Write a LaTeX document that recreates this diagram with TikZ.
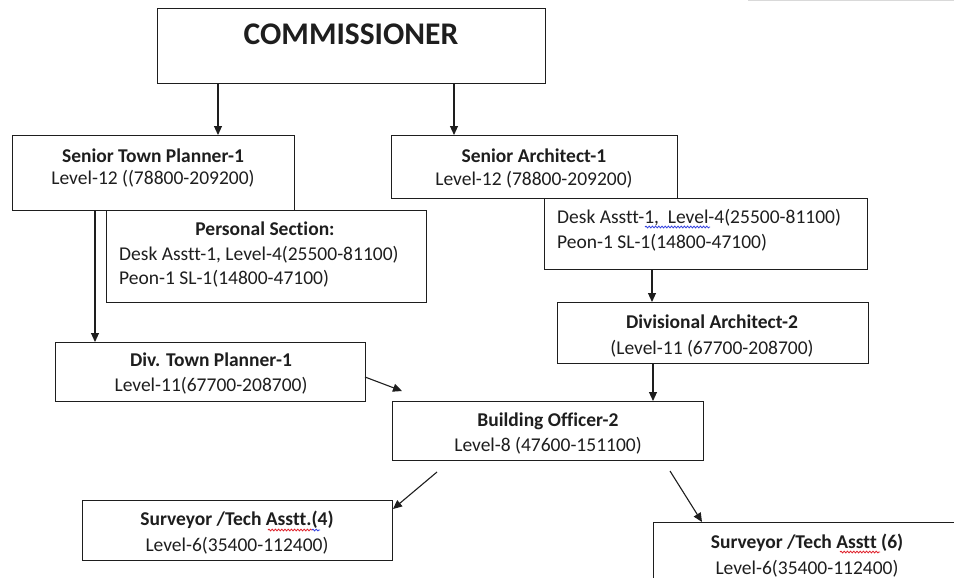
\documentclass[tikz,border=0pt]{standalone}
\usepackage{fontspec}
\setmainfont{Carlito}[Ligatures=CommonOff]
\usetikzlibrary{arrows.meta,calc,decorations.pathmorphing}
\definecolor{ink}{HTML}{1E1E1E}
\definecolor{spellred}{HTML}{E0202A}
\definecolor{spellblue}{HTML}{3040E0}
\begin{document}
\begin{tikzpicture}[x=1pt,y=-1pt,
  box/.style={draw=ink,line width=1.2pt,rectangle,inner sep=0pt,anchor=north west},
  head/.style={font=\fontsize{19.5}{23}\selectfont\bfseries,text=ink,inner sep=0pt,anchor=base},
  body/.style={font=\fontsize{19.5}{23}\selectfont,text=ink,inner sep=0pt,anchor=base},
  lbody/.style={body,anchor=base west},
  arr/.style={draw=ink,line width=1.1pt,-{Triangle[length=9pt,width=8pt]}},
  squiggle/.style={line width=0.8pt,decorate,decoration={snake,amplitude=0.9pt,segment length=3.2pt}}
]
\useasboundingbox (0,0) rectangle (954,578);
\clip (0,0) rectangle (954,578);
\fill[white] (0,0) rectangle (954,578);

% thin rule at the top edge
\draw[black!15,line width=1pt] (748,0.6) -- (954,0.6);

% boxes
\node[box,minimum width=388pt,minimum height=75pt] (com) at (157,8) {};
\node[box,minimum width=282pt,minimum height=75pt] (stp) at (12,135) {};
\node[box,minimum width=286pt,minimum height=63pt] (sa)  at (391,135) {};
\node[box,minimum width=320pt,minimum height=92pt] (ps)  at (106,210) {};
\node[box,minimum width=323pt,minimum height=71pt] (da)  at (544,198) {};
\node[box,minimum width=310pt,minimum height=59pt] (dtp) at (55,342) {};
\node[box,minimum width=311pt,minimum height=61pt] (dar) at (557,302) {};
\node[box,minimum width=311pt,minimum height=59pt] (bo)  at (392,401) {};
\node[box,minimum width=310pt,minimum height=60pt] (sv1) at (82,500) {};
\node[box,minimum width=330pt,minimum height=80pt] (sv2) at (653,522) {};

% texts
\node[font=\fontsize{31.5}{36}\selectfont\bfseries,text=ink,inner sep=0pt,anchor=base] (tcom) at (351,45) {COMMISSIONER};

\node[head] (tstp1) at (153,162) {Senior Town Planner-1};
\node[body] (tstp2) at (153,184) {Level-12 ((78800-209200)};

\node[head] (tsa1) at (534,162) {Senior Architect-1};
\node[body] (tsa2) at (534,185) {Level-12 (78800-209200)};

\node[head]  (tps1) at (265,235) {Personal Section:};
\node[lbody] (tps2) at (119,260) {Desk Asstt-1, Level-4(25500-81100)};
\node[lbody] (tps3) at (119,284) {Peon-1 SL-1(14800-47100)};

\node[lbody] (tda1) at (557,223) {Desk Asstt-1,\ \ Level-4(25500-81100)};
\node[lbody] (tda2) at (557,248) {Peon-1 SL-1(14800-47100)};

\node[head] (tdtp1) at (211,366) {Div. Town Planner-1};
\node[body] (tdtp2) at (211,391) {Level-11(67700-208700)};

\node[head] (tdar1) at (712,328) {Divisional Architect-2};
\node[body] (tdar2) at (712,354) {(Level-11 (67700-208700)};

\node[head] (tbo1) at (548,426) {Building Officer-2};
\node[body] (tbo2) at (548,451) {Level-8 (47600-151100)};

\node[head] (tsv11) at (237,525) {Surveyor /Tech Asstt.(4)};
\node[body] (tsv12) at (237,551) {Level-6(35400-112400)};

\node[head] (tsv21) at (807,548) {Surveyor /Tech Asstt (6)};
\node[body] (tsv22) at (807,574) {Level-6(35400-112400)};

% proofing marks under words
\draw[squiggle,spellblue] (645,227) -- (710,227);
\draw[squiggle,spellred]  (268,530) -- (312,530);
\draw[squiggle,spellblue] (312,530) -- (320,530);
\draw[squiggle,spellred]  (840,552) -- (880,552);

% connector guides
\coordinate (xl) at (218,0);
\coordinate (xr) at (454,0);
\coordinate (xs) at (95,0);
\coordinate (xa) at (652,0);
\coordinate (xb) at (653,0);
\coordinate (dtpout) at (365,377);
\coordinate (boin) at (402,391);
\coordinate (bol) at (437,472);
\coordinate (sv1in) at (393,509);
\coordinate (bor) at (670,471);
\coordinate (sv2in) at (702,522);

% connectors
\draw[arr] (xl |- com.south) -- (xl |- stp.north);
\draw[arr] (xr |- com.south) -- (xr |- sa.north);
\draw[arr] (xs |- stp.south) -- (xs |- dtp.north);
\draw[arr] (xa |- da.south) -- (xa |- dar.north);
\draw[arr] (xb |- dar.south) -- (xb |- bo.north);
\draw[arr] (dtpout) -- (boin);
\draw[arr] (bol) -- (sv1in);
\draw[arr] (bor) -- (sv2in);
\end{tikzpicture}
\end{document}
